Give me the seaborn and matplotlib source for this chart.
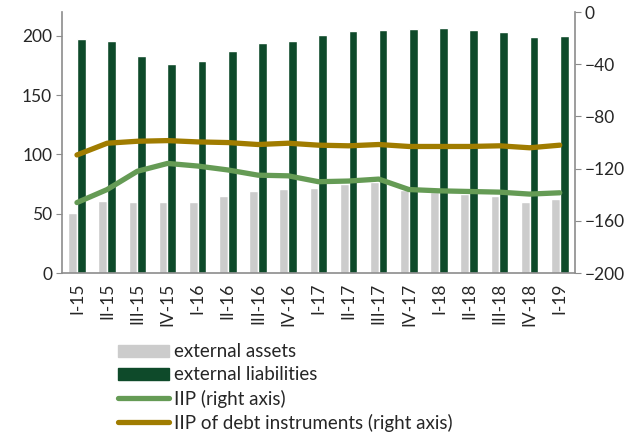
import numpy as np
import pandas as pd
import matplotlib
matplotlib.use("Agg")
import matplotlib.pyplot as plt
import seaborn as sns
from matplotlib.patches import Patch
from matplotlib.lines import Line2D

# datos
quarters = ["I-15", "II-15", "III-15", "IV-15", "I-16", "II-16", "III-16", "IV-16",
            "I-17", "II-17", "III-17", "IV-17", "I-18", "II-18", "III-18", "IV-18", "I-19"]
assets = [51, 61, 60, 60, 60, 65, 69, 71, 72, 75, 77, 70, 68, 67, 65, 60, 62]
liabilities = [197, 196, 183, 176, 179, 187, 194, 196, 201, 204, 205, 206, 207, 205, 203, 199, 200]
iip = [-146, -136, -122, -116, -118, -121, -125, -125.5, -130, -129.5, -128, -136, -137, -137.5, -138, -139.5, -138.5]
iip_debt = [-109.5, -100.5, -99, -98.5, -99.5, -100, -101.5, -100.5, -102, -102.5, -101.5, -103, -103, -103, -102.5, -104, -102]

sns.set_style("white")
plt.rcParams["font.family"] = ["Lato", "DejaVu Sans"]

grey = "#cccccc"
dark = "#0e4a2a"
green = "#659b55"
gold = "#a07c00"
spine = "#8c8c8c"

df = pd.DataFrame({
    "quarter": quarters * 2,
    "value": assets + liabilities,
    "series": ["external assets"] * len(quarters) + ["external liabilities"] * len(quarters),
})

fig = plt.figure(figsize=(6.38, 4.32), dpi=100)
ax = fig.add_axes([0.097, 0.368, 0.804, 0.604])
sns.barplot(data=df, x="quarter", y="value", hue="series", order=quarters,
            palette=[grey, dark], width=0.58, ax=ax, legend=False, saturation=1)

ax2 = ax.twinx()
x = np.arange(len(quarters))
sns.lineplot(x=x, y=iip, color=green, linewidth=3.8, ax=ax2, legend=False)
sns.lineplot(x=x, y=iip_debt, color=gold, linewidth=3.8, ax=ax2, legend=False)

ax.set_xlim(-0.5, len(quarters) - 0.5)
ax.set_ylim(0, 220)
ax.set_yticks([0, 50, 100, 150, 200])
ax2.set_ylim(-200, 0)
ax2.set_yticks([-200, -160, -120, -80, -40, 0])
ax.set_xlabel("")
ax.set_ylabel("")
ax2.set_ylabel("")

ax.set_xticks(x)
ax.set_xticklabels(quarters, rotation=90)
ax.set_xticks(np.arange(-0.5, len(quarters)), minor=True)
ax.tick_params(axis="x", which="major", length=0, pad=7, labelsize=12.5)
ax.tick_params(axis="x", which="minor", length=5, color=spine, direction="out")
ax.tick_params(axis="y", length=4, color=spine, labelsize=12.5, pad=3)
ax2.tick_params(axis="y", length=4, color=spine, labelsize=12.5, pad=3)

for a in (ax, ax2):
    for s in a.spines.values():
        s.set_visible(False)
ax.spines["left"].set_visible(True)
ax.spines["bottom"].set_visible(True)
ax2.spines["right"].set_visible(True)
for s in (ax.spines["left"], ax.spines["bottom"], ax2.spines["right"]):
    s.set_color(spine)
    s.set_linewidth(1.2)

# leyenda
handles = [Patch(color=grey), Patch(color=dark),
           Line2D([], [], color=green, linewidth=3.8, solid_capstyle="round"),
           Line2D([], [], color=gold, linewidth=3.8, solid_capstyle="round")]
labels = ["external assets", "external liabilities", "IIP (right axis)",
          "IIP of debt instruments (right axis)"]
fig.legend(handles, labels, loc="upper left", bbox_to_anchor=(0.185, 0.205),
           frameon=False, fontsize=13.5, handlelength=2.7, handleheight=0.65,
           handletextpad=0.3, labelspacing=0.32, borderpad=0, borderaxespad=0)

fig.savefig("out.png", dpi=100)
